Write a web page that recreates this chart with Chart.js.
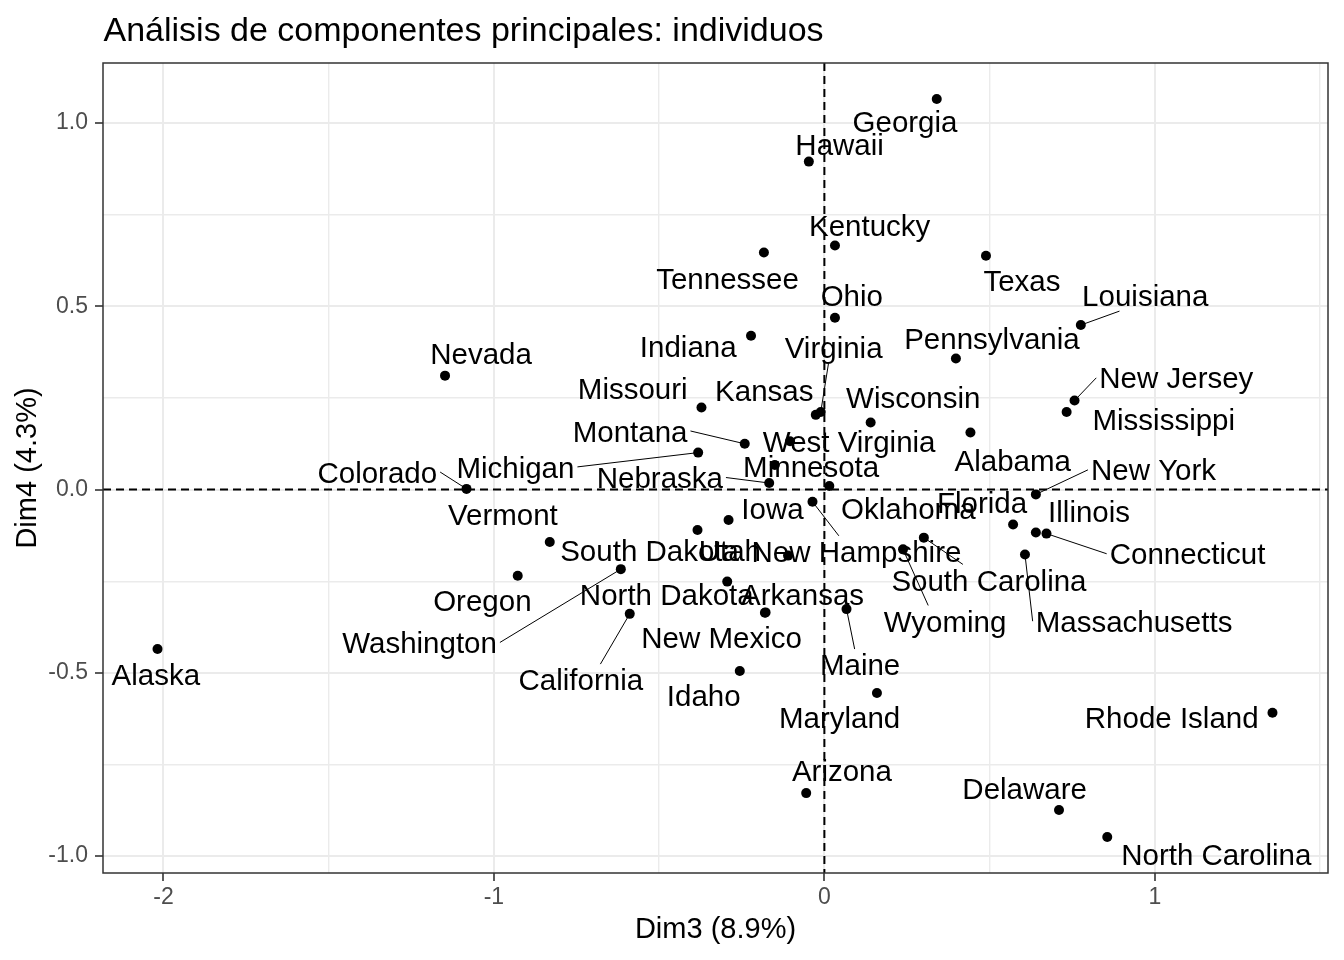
<!DOCTYPE html>
<html>
<head>
<meta charset="utf-8">
<title>PCA individuos</title>
<script src="https://cdn.jsdelivr.net/npm/chart.js@4.4.1/dist/chart.umd.min.js"></script>
<style>
    html, body { margin: 0; padding: 0; background: #ffffff; }
    #wrap { width: 1344px; height: 960px; }
</style>
</head>
<body>
<div id="wrap"><canvas id="pcaind"></canvas></div>
<script>
// Individuals (states) and their coordinates on Dim3 / Dim4
var states = ['Alabama', 'Alaska', 'Arizona', 'Arkansas', 'California', 'Colorado',
    'Connecticut', 'Delaware', 'Florida', 'Georgia', 'Hawaii', 'Idaho', 'Illinois',
    'Indiana', 'Iowa', 'Kansas', 'Kentucky', 'Louisiana', 'Maine', 'Maryland',
    'Massachusetts', 'Michigan', 'Minnesota', 'Mississippi', 'Missouri', 'Montana',
    'Nebraska', 'Nevada', 'New Hampshire', 'New Jersey', 'New Mexico', 'New York',
    'North Carolina', 'North Dakota', 'Ohio', 'Oklahoma', 'Oregon', 'Pennsylvania',
    'Rhode Island', 'South Carolina', 'South Dakota', 'Tennessee', 'Texas', 'Utah',
    'Vermont', 'Virginia', 'Washington', 'West Virginia', 'Wisconsin', 'Wyoming'];

var dim3 = [0.442, -2.018, -0.055, -0.180, -0.589, -1.083,
    0.672, 0.710, 0.571, 0.340, -0.047, -0.256, 0.640,
    -0.222, -0.290, -0.026, 0.032, 0.776, 0.067, 0.159,
    0.607, -0.382, -0.150, 0.733, -0.372, -0.241,
    -0.167, -1.148, -0.036, 0.757, -0.178, 0.640,
    0.856, -0.294, 0.032, 0.015, -0.928, 0.398,
    1.356, 0.301, -0.384, -0.183, 0.489, -0.110,
    -0.831, -0.011, -0.616, -0.104, 0.140, 0.238];

var dim4 = [0.156, -0.435, -0.828, -0.336, -0.339, 0.002,
    -0.120, -0.874, -0.095, 1.066, 0.895, -0.495, -0.117,
    0.420, -0.083, 0.204, 0.666, 0.449, -0.326, -0.555,
    -0.177, 0.101, 0.067, 0.212, 0.224, 0.125,
    0.018, 0.311, -0.033, 0.243, -0.335, -0.013,
    -0.948, -0.251, 0.469, 0.010, -0.235, 0.358,
    -0.609, -0.131, -0.110, 0.647, 0.638, -0.180,
    -0.143, 0.212, -0.217, 0.132, 0.183, -0.163];

// Where the repelled labels ended up, in Dim3 / Dim4 units
var labelDim3 = [0.570, -2.023, 0.053, -0.066, -0.737, -1.353,
    1.099, 0.606, 0.477, 0.244, 0.046, -0.365, 0.801,
    -0.412, -0.157, -0.182, 0.137, 0.971, 0.108, 0.046,
    0.937, -0.935, -0.040, 1.027, -0.580, -0.588,
    -0.498, -1.039, 0.097, 1.065, -0.311, 0.996,
    1.186, -0.477, 0.083, 0.254, -1.035, 0.507,
    1.051, 0.498, -0.529, -0.293, 0.598, -0.286,
    -0.973, 0.028, -1.225, 0.075, 0.269, 0.365];

var labelDim4 = [0.080, -0.504, -0.766, -0.286, -0.519, 0.048,
    -0.175, -0.815, -0.035, 1.004, 0.942, -0.562, -0.060,
    0.390, -0.052, 0.271, 0.722, 0.530, -0.478, -0.622,
    -0.359, 0.062, 0.064, 0.191, 0.277, 0.160,
    0.033, 0.371, -0.169, 0.305, -0.403, 0.054,
    -0.995, -0.286, 0.529, -0.052, -0.303, 0.413,
    -0.621, -0.247, -0.167, 0.577, 0.570, -0.167,
    -0.068, 0.387, -0.417, 0.132, 0.251, -0.359];

// Labels that are joined to their point by a segment
var leaderLines = ['Virginia', 'Louisiana', 'New Jersey', 'Montana', 'Michigan',
    'Colorado', 'Nebraska', 'New Hampshire', 'New York', 'Connecticut',
    'South Carolina', 'Wyoming', 'Massachusetts', 'Washington', 'California', 'Maine'];

// Axis limits and ticks
var xRange = [-2.183, 1.524];
var yRange = [-1.046, 1.164];
var xTicks = [-2, -1, 0, 1];
var xMinorTicks = [-1.5, -0.5, 0.5, 1.5];
var yTicks = [-1, -0.5, 0, 0.5, 1];
var yMinorTicks = [-0.75, -0.25, 0.25, 0.75];

var plotTitle = 'Análisis de componentes principales: individuos';
var xTitle = 'Dim3 (8.9%)';
var yTitle = 'Dim4 (4.3%)';

var FONT = '"Liberation Sans", Arial, Helvetica, sans-serif';
var LABEL_SIZE = 29.5;

/**
 * Build a tick list with major and minor values
 * @param {Array} major Major tick values
 * @param {Array} minor Minor tick values
 * @return {Array} sorted tick objects
 */
function allTicks(major, minor) {
    return major.concat(minor).sort(function(a, b) {
        return a - b;
    }).map(function(v) {
        return {value: v};
    });
}

/**
 * Axis options shared by both scales
 * @param {Array} major Major tick values
 * @param {Array} minor Minor tick values
 * @param {Function} fmt Formatter for tick labels
 * @return {Object} partial scale options
 */
function axisStyle(major, minor, fmt) {
    var isMajor = function(ctx) {
        return ctx.tick && major.indexOf(ctx.tick.value) !== -1;
    };
    return {
        type: 'linear',
        afterBuildTicks: function(scale) {
            scale.ticks = allTicks(major, minor);
        },
        grid: {
            color: '#EBEBEB',
            lineWidth: function(ctx) {
                return isMajor(ctx) ? 2 : 1.4;
            },
            tickLength: 8,
            tickWidth: 1.6,
            tickColor: function(ctx) {
                return isMajor(ctx) ? '#333333' : 'rgba(0,0,0,0)';
            }
        },
        border: {display: false},
        ticks: {
            autoSkip: false,
            maxRotation: 0,
            color: '#4D4D4D',
            font: {family: FONT, size: 23},
            callback: function(value) {
                return major.indexOf(value) !== -1 ? fmt(value) : '';
            }
        }
    };
}

// Dashed reference lines through the origin
var originLines = {
    id: 'originLines',
    beforeDatasetsDraw: function(chart) {
        var ctx = chart.ctx;
        var area = chart.chartArea;
        var x0 = chart.scales.x.getPixelForValue(0);
        var y0 = chart.scales.y.getPixelForValue(0);
        ctx.save();
        ctx.strokeStyle = '#000000';
        ctx.lineWidth = 2;
        ctx.setLineDash([8, 5]);
        ctx.beginPath();
        ctx.moveTo(area.left, y0);
        ctx.lineTo(area.right, y0);
        ctx.moveTo(x0, area.top);
        ctx.lineTo(x0, area.bottom);
        ctx.stroke();
        ctx.restore();
    }
};

// Text labels placed like ggrepel, with leader segments
var repelLabels = {
    id: 'repelLabels',
    afterDatasetsDraw: function(chart) {
        var ctx = chart.ctx;
        var sx = chart.scales.x;
        var sy = chart.scales.y;
        ctx.save();
        ctx.font = LABEL_SIZE + 'px ' + FONT;
        ctx.textAlign = 'center';
        ctx.textBaseline = 'alphabetic';

        // Segments first so the text sits on top
        ctx.strokeStyle = '#000000';
        ctx.lineWidth = 1;
        states.forEach(function(name, i) {
            if (leaderLines.indexOf(name) === -1) {
                return;
            }
            var px = sx.getPixelForValue(dim3[i]);
            var py = sy.getPixelForValue(dim4[i]);
            var cx = sx.getPixelForValue(labelDim3[i]);
            var cy = sy.getPixelForValue(labelDim4[i]);
            var hw = ctx.measureText(name).width / 2 + 3;
            var hh = LABEL_SIZE / 2 + 1;
            var ex, ey;
            if (px < cx - hw || px > cx + hw) {
                // Point sits beside the label: join mid of that side
                ex = px < cx ? cx - hw : cx + hw;
                ey = cy;
            } else {
                // Point above or below: join that edge, part way to centre
                ex = px + (cx - px) * 0.6;
                ey = py < cy ? cy - hh : cy + hh;
            }
            ctx.beginPath();
            ctx.moveTo(px, py);
            ctx.lineTo(ex, ey);
            ctx.stroke();
        });

        // Text centred on the cap height of each label
        ctx.fillStyle = '#000000';
        states.forEach(function(name, i) {
            var cy = sy.getPixelForValue(labelDim4[i]);
            ctx.fillText(name, sx.getPixelForValue(labelDim3[i]), cy + LABEL_SIZE * 0.36);
        });
        ctx.restore();
    }
};

// Panel border and plot title
var frameAndTitle = {
    id: 'frameAndTitle',
    afterDraw: function(chart) {
        var ctx = chart.ctx;
        var area = chart.chartArea;
        ctx.save();
        ctx.strokeStyle = '#333333';
        ctx.lineWidth = 1.5;
        ctx.strokeRect(area.left, area.top, area.right - area.left, area.bottom - area.top);
        ctx.fillStyle = '#000000';
        ctx.font = '34px ' + FONT;
        ctx.textAlign = 'left';
        ctx.textBaseline = 'alphabetic';
        ctx.fillText(plotTitle, area.left + 0.5, 41);
        ctx.restore();
    }
};

var xOpts = axisStyle(xTicks, xMinorTicks, function(v) {
    return String(v);
});
xOpts.min = xRange[0];
xOpts.max = xRange[1];
xOpts.ticks.padding = 3;
xOpts.afterFit = function(scale) {
    scale.height = 87;
};
xOpts.title = {
    display: true,
    text: xTitle,
    color: '#000000',
    font: {family: FONT, size: 29},
    padding: {top: 0, bottom: 13}
};

var yOpts = axisStyle(yTicks, yMinorTicks, function(v) {
    return v.toFixed(1);
});
yOpts.min = yRange[0];
yOpts.max = yRange[1];
yOpts.ticks.padding = 7;
yOpts.afterFit = function(scale) {
    scale.width = 103;
};
yOpts.title = {
    display: true,
    text: yTitle,
    color: '#000000',
    font: {family: FONT, size: 29},
    padding: {top: 11, bottom: 0}
};

var points = states.map(function(name, i) {
    return {x: dim3[i], y: dim4[i]};
});

new Chart(document.getElementById('pcaind'), {
    type: 'scatter',
    data: {
        datasets: [{
            label: 'individuos',
            data: points,
            pointRadius: 5,
            pointHoverRadius: 5,
            pointBackgroundColor: '#000000',
            pointBorderWidth: 0
        }]
    },
    options: {
        responsive: true,
        maintainAspectRatio: false,
        devicePixelRatio: 1,
        animation: false,
        events: [],
        layout: {padding: {top: 63, right: 16, bottom: 0, left: 0}},
        plugins: {
            legend: {display: false},
            tooltip: {enabled: false}
        },
        scales: {x: xOpts, y: yOpts}
    },
    plugins: [originLines, repelLabels, frameAndTitle]
});
</script>
</body>
</html>
